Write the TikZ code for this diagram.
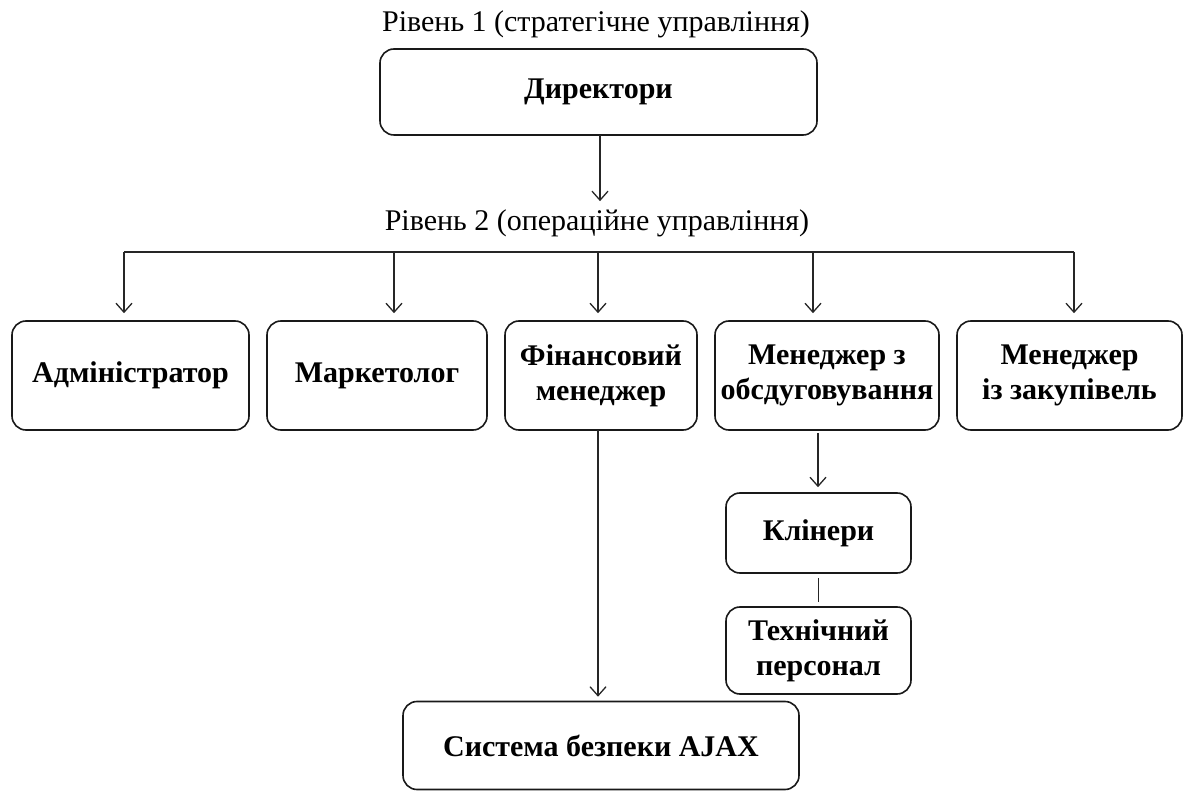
\documentclass[tikz,border=0pt]{standalone}
\usepackage{fontspec}
\setmainfont{Liberation Serif}
\usetikzlibrary{arrows.meta}
\begin{document}
\begin{tikzpicture}[x=1pt,y=-1pt,
  box/.style={draw=black!90, rounded corners=14pt, line width=1.6pt, align=center, inner sep=0pt,
    font=\bfseries\fontsize{30}{35}\selectfont},
  conn/.style={draw=black!85, line width=1.3pt, -{Straight Barb[length=9pt,width=16pt,line width=1.3pt]}},
  plain/.style={draw=black!85, line width=1.5pt},
  lvl/.style={font=\fontsize{30}{32}\selectfont, inner sep=0pt}]
\useasboundingbox (0,0) rectangle (1184,791);
\node[lvl] (t1) at (596,24) {Рівень 1 (стратегічне управління)};
\node[box, minimum width=437pt, minimum height=86pt] (dir) at (598.5,92) {Директори};
\node[lvl] (t2) at (597,223) {Рівень 2 (операційне управління)};
\node[box, minimum width=237pt, minimum height=109pt] (adm) at (130.5,375.5) {Адміністратор};
\node[box, minimum width=220pt, minimum height=109pt] (mark) at (377,375.5) {Маркетолог};
\node[box, minimum width=192pt, minimum height=109pt] (fin) at (601,375.5) {Фінансовий\\менеджер};
\node[box, minimum width=224pt, minimum height=109pt] (mob) at (827,375.5) {Менеджер з\\обсдуговування};
\node[box, minimum width=225pt, minimum height=109pt] (zak) at (1069.5,375.5) {Менеджер\\із закупівель};
\node[box, minimum width=185pt, minimum height=80pt] (kli) at (818.5,533) {Клінери};
\node[box, minimum width=185pt, minimum height=87pt] (teh) at (818.5,650.5) {Технічний\\персонал};
\node[box, minimum width=396pt, minimum height=88pt] (ajax) at (601,745.5) {Система безпеки AJAX};
% level-1 arrow
\coordinate (d0) at (600,135);
\draw[conn, shorten >=8pt] (d0) -- (d0 |- t2.north);
% bar
\coordinate (b1) at (124,252);
\coordinate (b2) at (394,252);
\coordinate (b3) at (598,252);
\coordinate (b4) at (813,252);
\coordinate (b5) at (1074,252);
\draw[plain] (b1) -- (b5);
\draw[conn, shorten >=7pt] (b1) -- (b1 |- adm.north);
\draw[conn, shorten >=7pt] (b2) -- (b2 |- mark.north);
\draw[conn, shorten >=7pt] (b3) -- (b3 |- fin.north);
\draw[conn, shorten >=7pt] (b4) -- (b4 |- mob.north);
\draw[conn, shorten >=7pt] (b5) -- (b5 |- zak.north);
% lower connectors
\coordinate (f0) at (598,430);
\draw[conn, shorten >=4pt] (f0) -- (f0 |- ajax.north);
\coordinate (m0) at (818,433);
\draw[conn, shorten >=5pt] (m0) -- (m0 |- kli.north);
\draw[plain, shorten <=4pt, shorten >=4pt] (kli.south) -- (teh.north);
\end{tikzpicture}
\end{document}
